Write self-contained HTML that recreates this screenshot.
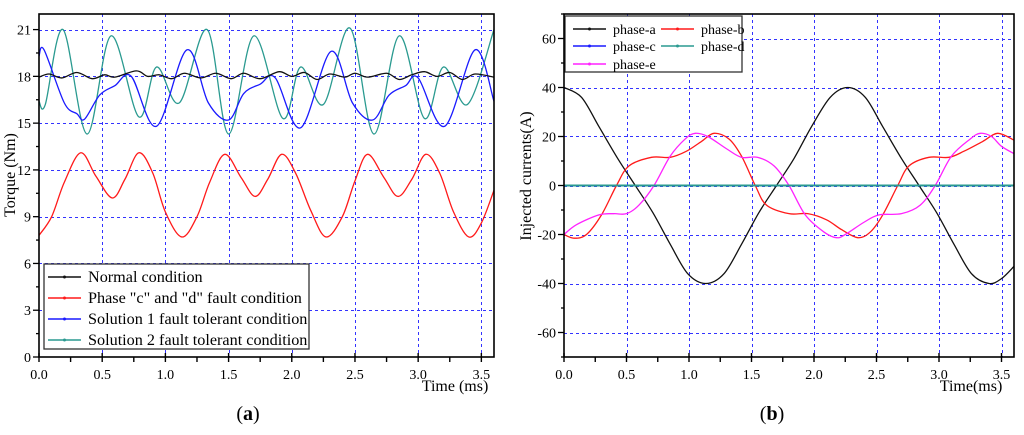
<!DOCTYPE html>
<html><head><meta charset="utf-8">
<style>
html,body{margin:0;padding:0;background:#fff;}
svg{display:block;font-family:"Liberation Serif",serif;}
</style></head>
<body>
<svg id="fig" width="1024" height="435" viewBox="0 0 1024 435">
<g id="pa"></g>
<g id="pb"></g>
<text x="248" y="420" font-size="20" text-anchor="middle">(<tspan font-weight="bold">a</tspan>)</text>
<text x="772" y="420" font-size="20" text-anchor="middle">(<tspan font-weight="bold">b</tspan>)</text>
</svg>
<script>
// ---- Chart (a) data ----
const aXTicks = [0,0.5,1.0,1.5,2.0,2.5,3.0,3.5];
const aXTickLabels = ["0.0","0.5","1.0","1.5","2.0","2.5","3.0","3.5"];
const aYTicks = [0,3,6,9,12,15,18,21];
const normalT = [0,0.08,0.18,0.3,0.42,0.52,0.6,0.77,0.86,0.95,1.05,1.15,1.28,1.4,1.52,1.62,1.75,1.9,2.0,2.1,2.2,2.3,2.42,2.5,2.6,2.75,2.85,2.95,3.05,3.15,3.25,3.35,3.45,3.6];
const normalV = [17.95,18.15,17.9,18.25,17.85,18.1,17.95,18.35,18.0,18.1,17.85,18.2,17.9,18.2,17.85,18.2,17.85,18.3,18.0,18.25,17.8,18.15,17.95,18.2,17.95,18.2,17.8,18.1,18.3,18.0,18.25,17.8,18.15,17.95];
const faultT = [0,0.1,0.2,0.33,0.45,0.58,0.68,0.79,0.9,1.0,1.13,1.25,1.35,1.47,1.6,1.71,1.81,1.92,2.03,2.15,2.27,2.4,2.5,2.6,2.73,2.84,2.95,3.06,3.17,3.28,3.4,3.5,3.6];
const faultV = [7.8,9.0,11.2,13.1,11.6,10.2,11.4,13.1,11.8,9.3,7.7,9.0,11.2,13.0,11.5,10.3,11.4,13.0,11.8,9.4,7.7,9.0,11.3,13.0,11.5,10.3,11.4,13.0,11.8,9.3,7.7,8.6,10.7];
const sol1T = [0,0.04,0.2,0.3,0.36,0.48,0.6,0.73,0.93,1.17,1.34,1.5,1.62,1.75,1.87,2.07,2.31,2.48,2.64,2.77,2.9,3.0,3.21,3.45,3.6];
const sol1V = [19.3,19.7,16.3,15.6,15.25,16.8,17.4,18.0,14.8,19.7,16.3,15.2,16.9,17.5,17.9,14.7,19.6,16.3,15.2,16.8,17.4,17.9,14.8,19.7,16.4];
const sol2T = [0,0.05,0.19,0.38,0.57,0.79,0.93,1.11,1.33,1.5,1.7,1.93,2.07,2.25,2.46,2.65,2.85,3.05,3.2,3.39,3.6];
const sol2V = [16.4,16.2,21.0,14.3,20.6,15.4,18.6,16.3,21.0,14.3,20.6,15.3,18.6,16.2,21.1,14.3,20.6,15.3,18.6,16.2,21.0];
// ---- Chart (b) data ----
const bYTicks = [-60,-40,-20,0,20,40,60];
const phaseAT = [0,0.14,0.28,0.43,0.57,0.71,0.85,0.99,1.135,1.28,1.42,1.56,1.7,1.84,1.98,2.13,2.27,2.41,2.55,2.7,2.84,2.98,3.12,3.26,3.4,3.5,3.6];
const phaseAV = [40,36,24,11,0,-11,-24,-36,-40,-36,-24,-11,0,11,24,36,40,36,24,11,0,-11,-24,-36,-40,-38,-33];
const phaseBT = [0,0.08,0.18,0.3,0.42,0.52,0.7,0.85,0.98,1.1,1.2,1.32,1.42,1.53,1.62,1.8,1.95,2.1,2.22,2.35,2.45,2.55,2.67,2.76,2.92,3.08,3.2,3.35,3.47,3.6];
const phaseBV = [-20,-21.5,-20,-12,0,8,11.5,11.5,14,18,21.3,19,12,0,-8,-11.5,-11.5,-14,-18,-21.3,-19,-12,0,8,11.5,11.5,14,18,21.3,18.5];
const phaseET = [0,0.1,0.28,0.4,0.5,0.6,0.72,0.85,0.97,1.05,1.15,1.3,1.42,1.55,1.68,1.8,1.93,2.08,2.18,2.25,2.4,2.52,2.7,2.85,2.97,3.1,3.25,3.33,3.42,3.5,3.6];
const phaseEV = [-20,-16,-12,-11.5,-11.5,-8,0,12,19,21.3,20,15,11.5,11.5,8,0,-12,-19,-21.3,-20,-15,-12,-11.5,-8,0,12,19,21.3,20,16,13];
const phaseCT = [0,3.6];
const phaseCV = [0,0];
const phaseDT = [0,3.6];
const phaseDV = [0,0];

const NS="http://www.w3.org/2000/svg";
function mk(tag,attrs,parent){const e=document.createElementNS(NS,tag);for(const k in attrs)e.setAttribute(k,attrs[k]);parent.appendChild(e);return e;}
function smooth(ts,vs,sx,sy){
  const p=ts.map((t,i)=>[sx(t),sy(vs[i])]);
  let d="M"+p[0][0].toFixed(2)+","+p[0][1].toFixed(2);
  for(let i=0;i<p.length-1;i++){
    const p0=p[Math.max(0,i-1)],p1=p[i],p2=p[i+1],p3=p[Math.min(p.length-1,i+2)];
    const c1=[p1[0]+(p2[0]-p0[0])/6,p1[1]+(p2[1]-p0[1])/6];
    const c2=[p2[0]-(p3[0]-p1[0])/6,p2[1]-(p3[1]-p1[1])/6];
    d+="C"+c1[0].toFixed(2)+","+c1[1].toFixed(2)+" "+c2[0].toFixed(2)+","+c2[1].toFixed(2)+" "+p2[0].toFixed(2)+","+p2[1].toFixed(2);
  }
  return d;
}
function chart(g,o){
  const sx=t=>o.x0+(t-0)/(3.6)*(o.x1-o.x0);
  const sy=v=>o.y1-(v-o.ymin)/(o.ymax-o.ymin)*(o.y1-o.y0);
  const clipId=o.id+"clip";
  const defs=mk("defs",{},g);
  const cp=mk("clipPath",{id:clipId},defs);
  mk("rect",{x:o.x0,y:o.y0,width:o.x1-o.x0,height:o.y1-o.y0},cp);
  // grid
  o.xt.forEach(t=>{if(t>0){const X=Math.round(sx(t))+0.5;const l=mk("line",{x1:X,x2:X,y1:o.y0,y2:o.y1,stroke:"#3333ff","stroke-width":1,"stroke-dasharray":"3,3","shape-rendering":"crispEdges"},g);
    
    }});
  o.yt.forEach(v=>{if(v>o.ymin){const Y=Math.round(sy(v))+0.5;const l=mk("line",{x1:o.x0,x2:o.x1,y1:Y,y2:Y,stroke:"#3333ff","stroke-width":1,"stroke-dasharray":"3,3","shape-rendering":"crispEdges"},g);
    
    }});
  // series
  const sg=mk("g",{"clip-path":"url(#"+clipId+")"},g);
  o.series.forEach(s=>{const p=mk("path",{d:smooth(s.t,s.v,sx,sy),fill:"none",stroke:s.c,"stroke-width":s.w||1.3},sg);
    
    });
  // legend
  if(o.legend) o.legend(g);
  // frame
  const fr=mk("rect",{x:o.x0,y:o.y0,width:o.x1-o.x0,height:o.y1-o.y0,fill:"none",stroke:"#000","stroke-width":1.6},g);
  
  
  // x ticks
  for(let t=0;t<=3.51;t+=0.25){const maj=Math.abs(t*2-Math.round(t*2))<1e-6;
    mk("line",{x1:sx(t),x2:sx(t),y1:maj?o.y1-4:o.y1,y2:o.y1+5,stroke:"#000","stroke-width":1.4},g);}
  o.xt.forEach((t,i)=>{const tx=mk("text",{x:sx(t),y:o.y1+22,"font-size":14,"text-anchor":"middle"},g);tx.textContent=o.xl[i];
    
    });
  // y ticks
  const step=(o.yt[1]-o.yt[0])/2;
  for(let v=o.ymin;v<=o.ymax+1e-6;v+=step){const maj=o.yt.some(q=>Math.abs(q-v)<1e-6);
    mk("line",{x1:o.x0-(maj?6:3),x2:o.x0,y1:sy(v),y2:sy(v),stroke:"#000","stroke-width":1.3},g);}
  o.yt.forEach(v=>{const tx=mk("text",{x:o.x0-8,y:sy(v)+5,"font-size":14,"text-anchor":"end"},g);tx.textContent=String(v);
    
    });
  const xtit=mk("text",{x:o.xtx,y:o.y1+34,"font-size":16,"text-anchor":"middle"},g);xtit.textContent=o.xtitle;
  
  
  const ytit=mk("text",{x:o.ytx,y:o.yty,"font-size":16,"text-anchor":"middle",transform:"rotate(-90 "+o.ytx+" "+o.yty+")"},g);ytit.textContent=o.ytitle;
  
  
}
function legendBox(g,x,y,w,h,items,fs){
  const lg=mk("g",{},g);
  
  
  mk("rect",{x:x,y:y,width:w,height:h,fill:"#fff",stroke:"#333","stroke-width":1.3},lg);
  items.forEach(it=>{
    const e=mk("g",{},lg);
    
    
    mk("line",{x1:it.x,x2:it.x+33,y1:it.y,y2:it.y,stroke:it.c,"stroke-width":1.5},e);
    mk("circle",{cx:it.x+16.5,cy:it.y,r:1.5,fill:it.c},e);
    const t=mk("text",{x:it.x+40,y:it.y+5,"font-size":fs},e);t.textContent=it.label;
  });
}
chart(document.getElementById("pa"),{id:"a",x0:39,x1:494,y0:14,y1:357,ymin:0,ymax:22,xt:aXTicks,xl:aXTickLabels,yt:aYTicks,
  xtitle:"Time (ms)",xtx:455,ytitle:"Torque (Nm)",ytx:15,yty:175,
  series:[{name:"series-fault",t:faultT,v:faultV,c:"#ff1a1a"},{name:"series-solution2",t:sol2T,v:sol2V,c:"#2a9a90"},
          {name:"series-solution1",t:sol1T,v:sol1V,c:"#1a1aff"},{name:"series-normal",t:normalT,v:normalV,c:"#111"}],
  legend:g=>legendBox(g,44,264,265,85,[
    {x:48,y:277,c:"#111",label:"Normal condition"},
    {x:48,y:298,c:"#ff1a1a",label:'Phase "c" and "d" fault condition'},
    {x:48,y:319,c:"#1a1aff",label:"Solution 1 fault tolerant condition"},
    {x:48,y:340,c:"#2a9a90",label:"Solution 2 fault tolerant condition"}],16.2)});
chart(document.getElementById("pb"),{id:"b",x0:564,x1:1014,y0:14,y1:357,ymin:-70,ymax:70,xt:aXTicks,xl:aXTickLabels,yt:bYTicks,
  xtitle:"Time(ms)",xtx:971,ytitle:"Injected currents(A)",ytx:531,yty:176,
  series:[{name:"series-phase-a",t:phaseAT,v:phaseAV,c:"#111"},{name:"series-phase-b",t:phaseBT,v:phaseBV,c:"#ff1a1a"},
          {name:"series-phase-e",t:phaseET,v:phaseEV,c:"#ff22ff"},{name:"series-phase-c",t:phaseCT,v:phaseCV,c:"#1a1aff",w:2},
          {name:"series-phase-d",t:phaseDT,v:phaseDV,c:"#2a9a90",w:2}],
  legend:g=>legendBox(g,565,16,177,56,[
    {x:573,y:29,c:"#111",label:"phase-a"},{x:661,y:29,c:"#ff1a1a",label:"phase-b"},
    {x:573,y:46,c:"#1a1aff",label:"phase-c"},{x:661,y:46,c:"#2a9a90",label:"phase-d"},
    {x:573,y:64,c:"#ff22ff",label:"phase-e"}],14)});
</script>
</body></html>
